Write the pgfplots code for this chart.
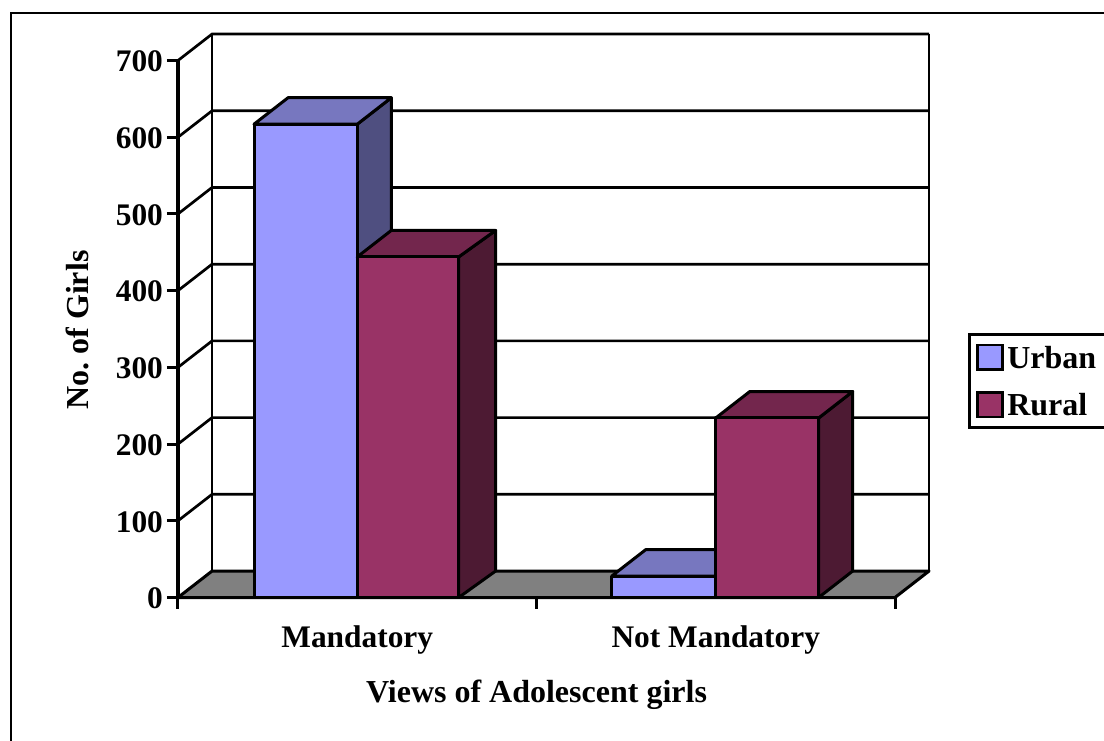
\documentclass[border=0pt]{standalone}
\usepackage{fontspec}
\setmainfont{Liberation Serif}
\usepackage{pgfplots}
\pgfplotsset{compat=1.18}

% 1 px of the reference = 0.5pt
\definecolor{urbanfront}{HTML}{9999FF}
\definecolor{urbantop}{HTML}{7777BF}
\definecolor{urbanside}{HTML}{4F4F80}
\definecolor{ruralfront}{HTML}{993366}
\definecolor{ruraltop}{HTML}{73264D}
\definecolor{ruralside}{HTML}{4D1A33}
\definecolor{floorgray}{HTML}{808080}

\pgfplotsset{
  face/.style={draw=black, line width=1.5pt, line join=round, forget plot},
  wall/.style={draw=black, line width=1.35pt, forget plot, no markers},
}

\begin{document}
\begin{tikzpicture}[x=1pt,y=1pt]
  \useasboundingbox (0,0) rectangle (552,370);
  \draw[line width=1.35pt] (5.5,-2) -- (5.5,363.5) -- (554,363.5);
  \begin{axis}[
    at={(89pt,71.25pt)},
    anchor=south west,
    scale only axis,
    width=358.5pt,
    height=268.5pt,
    xmin=-0.5, xmax=1.5,
    ymin=0, ymax=700,
    clip=false,
    axis x line*=bottom,
    axis y line*=left,
    axis line style={line width=1.7pt, -},
    tick style={line width=1.5pt, black},
    tick align=outside,
    major tick length=5.5pt,
    xtick={-0.5,0.5,1.5},
    xticklabels={},
    extra x ticks={0,1},
    extra x tick labels={Mandatory,Not Mandatory},
    extra x tick style={major tick length=0pt, tick label style={yshift=-10.5pt}},
    ytick={0,100,...,700},
    /pgf/number format/assume math mode=true,
    tick label style={font=\fontsize{15.7}{18}\selectfont\bfseries},
    yticklabel style={xshift=1.5pt, yshift=-0.5pt},
    xlabel={Views of Adolescent girls},
    ylabel={No. of Girls},
    label style={font=\fontsize{16}{18}\selectfont\bfseries\frenchspacing},
    xlabel style={at={(axis description cs:0.5,0)}, anchor=center, yshift=-48.5pt},
    ylabel style={at={(axis description cs:0,0.498)}, anchor=center, rotate=0, yshift=50.5pt},
    legend cell align=left,
    legend style={
      at={(axis description cs:1.102,0.4925)},
      anchor=north west,
      legend columns=1,
      draw=black,
      line width=1.35pt,
      font=\fontsize{16}{18}\selectfont\bfseries,
      inner xsep=3.5pt,
      inner ysep=4.5pt,
      nodes={inner sep=1.5pt, text depth=0pt},
      row sep=9.5pt,
    },
    legend image code/.code={
      \draw[#1, line width=1.4pt] (-2pt,-6.2pt) rectangle (10.5pt,6.2pt);
    },
    legend style={/tikz/every even column/.append style={column sep=1pt}},
  ]
    % floor
    \addplot[face, fill=floorgray] coordinates {(-0.5,0) (-0.405,34.5) (1.595,34.5) (1.5,0)} --cycle;

    % back wall gridlines and left wall diagonals
    \addplot[wall] coordinates {(-0.405,34.5) (-0.405,734.5)};
    \addplot[wall] coordinates {(1.595,34.5) (1.595,734.5)};
    \addplot[wall] coordinates {(-0.5,100) (-0.405,134.5) (1.595,134.5)};
    \addplot[wall] coordinates {(-0.5,200) (-0.405,234.5) (1.595,234.5)};
    \addplot[wall] coordinates {(-0.5,300) (-0.405,334.5) (1.595,334.5)};
    \addplot[wall] coordinates {(-0.5,400) (-0.405,434.5) (1.595,434.5)};
    \addplot[wall] coordinates {(-0.5,500) (-0.405,534.5) (1.595,534.5)};
    \addplot[wall] coordinates {(-0.5,600) (-0.405,634.5) (1.595,634.5)};
    \addplot[wall] coordinates {(-0.5,700) (-0.405,734.5) (1.595,734.5)};

    % Mandatory, Urban (617)
    \addplot[face, fill=urbanside] coordinates {(0,0) (0.095,34.5) (0.095,651.5) (0,617)} --cycle;
    \addplot[face, fill=urbantop] coordinates {(-0.288,617) (-0.193,651.5) (0.095,651.5) (0,617)} --cycle;
    \addplot[face, fill=urbanfront] coordinates {(-0.288,0) (-0.288,617) (0,617) (0,0)} --cycle;

    % Mandatory, Rural (444)
    \addplot[face, fill=ruralside] coordinates {(0.283,0) (0.386,34.5) (0.386,478.5) (0.283,444)} --cycle;
    \addplot[face, fill=ruraltop] coordinates {(0,444) (0.095,478.5) (0.386,478.5) (0.283,444)} --cycle;
    \addplot[face, fill=ruralfront] coordinates {(0,0) (0,444) (0.283,444) (0.283,0)} --cycle;

    % Not Mandatory, Urban (28)
    \addplot[face, fill=urbantop] coordinates {(0.71,28) (0.805,62.5) (1.095,62.5) (1,28)} --cycle;
    \addplot[face, fill=urbanfront] coordinates {(0.71,0) (0.71,28) (1,28) (1,0)} --cycle;

    % Not Mandatory, Rural (234)
    \addplot[face, fill=ruralside] coordinates {(1.287,0) (1.382,34.5) (1.382,268.5) (1.287,234)} --cycle;
    \addplot[face, fill=ruraltop] coordinates {(1,234) (1.095,268.5) (1.382,268.5) (1.287,234)} --cycle;
    \addplot[face, fill=ruralfront] coordinates {(1,0) (1,234) (1.287,234) (1.287,0)} --cycle;

    \addlegendimage{fill=urbanfront, draw=black}
    \addlegendentry{Urban}
    \addlegendimage{fill=ruralfront, draw=black}
    \addlegendentry{Rural}
  \end{axis}
\end{tikzpicture}
\end{document}
